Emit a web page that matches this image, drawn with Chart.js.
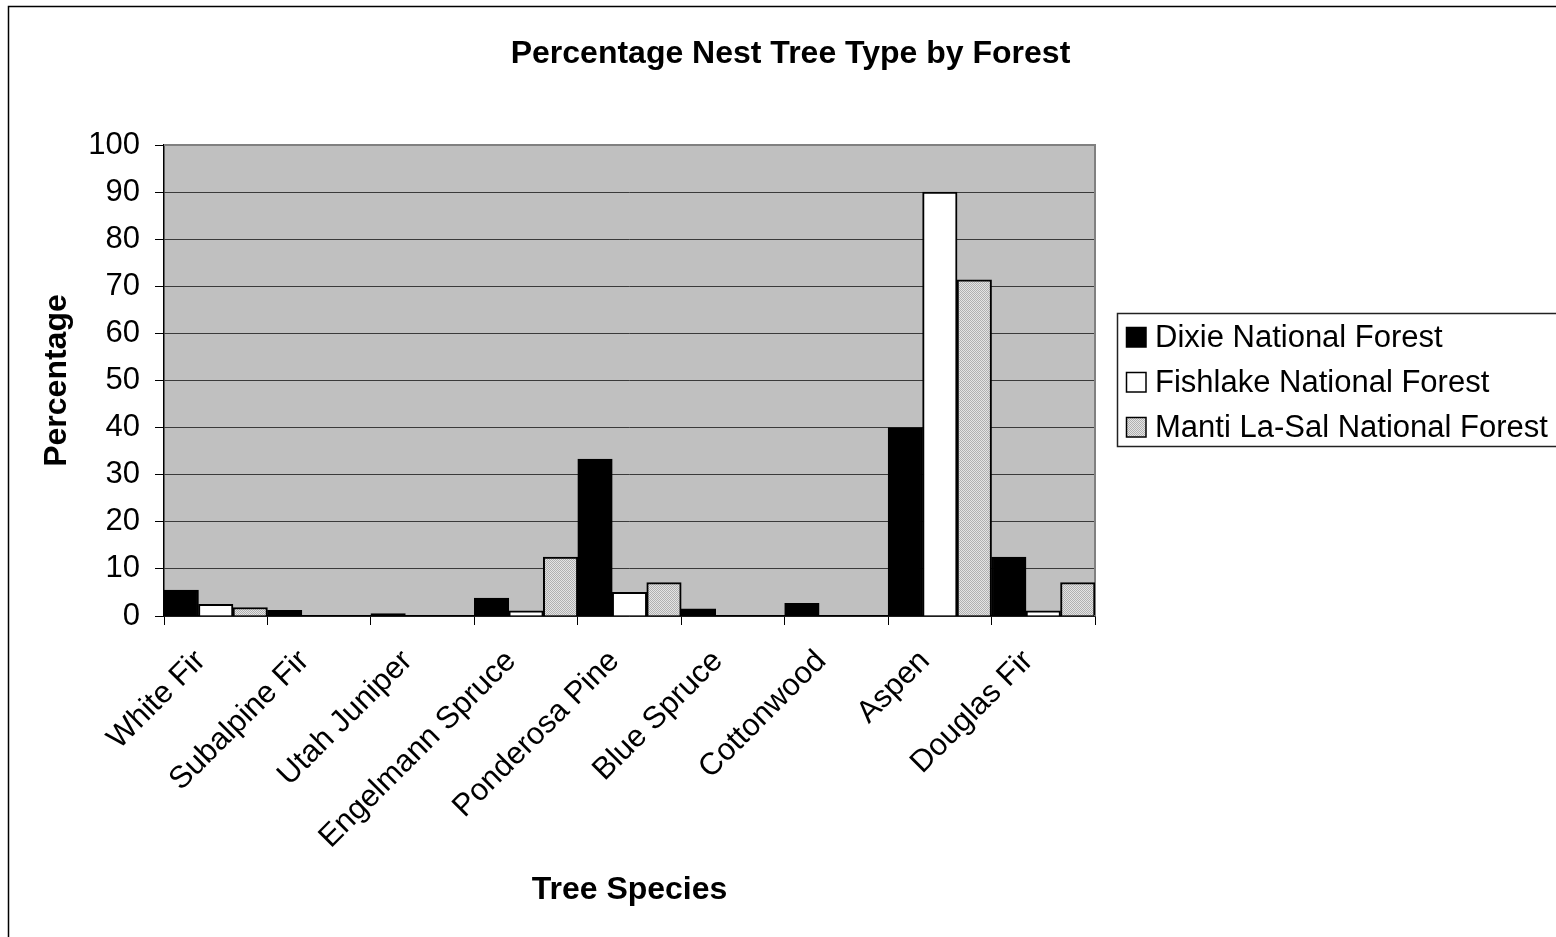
<!DOCTYPE html>
<html><head><meta charset="utf-8">
<script src="https://cdn.jsdelivr.net/npm/chart.js@4.4.1/dist/chart.umd.min.js"></script>
<style>html,body{margin:0;padding:0;background:#fff;overflow:hidden}#wrap{position:absolute;left:0;top:0;width:1556px;height:937px}</style>
</head><body><div id="wrap"><canvas id="c" width="1556" height="937"></canvas></div>
<script>
const categories = ['White Fir','Subalpine Fir','Utah Juniper','Engelmann Spruce','Ponderosa Pine','Blue Spruce','Cottonwood','Aspen','Douglas Fir'];
const dixie    = [5.5, 1.2, 0.5, 3.8, 33.3, 1.5, 2.7, 40.0, 12.5];
const fishlake = [2.5, 0,   0,   1.1, 5.0,  0,   0,   90.0, 1.1];
const manti    = [1.8, 0,   0,   12.5, 7.1, 0,   0,   71.4, 7.1];
const seriesNames = ['Dixie National Forest','Fishlake National Forest','Manti La-Sal National Forest'];
const yTickValues = [0,10,20,30,40,50,60,70,80,90,100];
const chartTitle = 'Percentage Nest Tree Type by Forest';
const xTitle = 'Tree Species';
const yTitle = 'Percentage';

const FONT = "'Liberation Sans', Arial, sans-serif";

function makePattern(){
  const p = document.createElement('canvas');
  p.width = 2; p.height = 2;
  const g = p.getContext('2d');
  g.fillStyle = '#e4e4e4'; g.fillRect(0,0,2,2);
  g.fillStyle = '#b0b0b0'; g.fillRect(0,0,1,1); g.fillRect(1,1,1,1);
  return document.getElementById('c').getContext('2d').createPattern(p,'repeat');
}
const mantiFill = makePattern();
const fills = ['#000000','#ffffff',mantiFill];

const decor = {
  id:'decor',
  beforeDraw(chart){
    const {ctx, chartArea:a} = chart;
    ctx.save();
    ctx.fillStyle = '#fff';
    ctx.fillRect(0,0,chart.width,chart.height);
    ctx.strokeStyle = '#000'; ctx.lineWidth = 1.5;
    ctx.strokeRect(8.5, 6.5, 3000, 3000);
    ctx.fillStyle = '#c0c0c0';
    ctx.fillRect(a.left, a.top, a.right-a.left, a.bottom-a.top);
    ctx.restore();
  },
  beforeDatasetsDraw(chart){
    const {ctx, chartArea:a} = chart;
    ctx.save();
    ctx.strokeStyle = '#808080'; ctx.lineWidth = 2;
    ctx.beginPath();
    ctx.moveTo(a.left, a.top); ctx.lineTo(a.right, a.top); ctx.lineTo(a.right, a.bottom);
    ctx.stroke();
    ctx.restore();
  },
  afterDraw(chart){
    const {ctx} = chart;
    ctx.save();
    ctx.fillStyle = '#000';
    ctx.font = 'bold 32px ' + FONT;
    ctx.textAlign = 'center'; ctx.textBaseline = 'middle';
    ctx.fillText(chartTitle, 790.5, 54);
    // legend
    ctx.strokeStyle = '#222'; ctx.lineWidth = 1.5;
    ctx.strokeRect(1117.5, 313.5, 600, 133);
    ctx.font = '31px ' + FONT;
    ctx.textAlign = 'left'; ctx.textBaseline = 'alphabetic';
    seriesNames.forEach((n,i)=>{
      const y = 327 + i*45;
      ctx.fillStyle = fills[i];
      ctx.fillRect(1126, y, 20, 20);
      ctx.strokeStyle = '#000'; ctx.lineWidth = 1.5;
      ctx.strokeRect(1126.5, y+0.5, 19.5, 19.5);
      ctx.fillStyle = '#000';
      ctx.fillText(n, 1155, y+20);
    });
    ctx.restore();
  }
};

new Chart(document.getElementById('c'), {
  type:'bar',
  data:{
    labels: categories,
    datasets: [dixie, fishlake, manti].map((d,i)=>({
      label: seriesNames[i], data: d,
      backgroundColor: fills[i], borderColor:'#000', borderWidth:2,
      categoryPercentage:1, barPercentage:1
    }))
  },
  options:{
    responsive:false, animation:false, devicePixelRatio:1,
    layout:{padding:{left:0, top:145, right:461, bottom:0}},
    plugins:{legend:{display:false}, title:{display:false}, tooltip:{enabled:false}},
    scales:{
      x:{
        grid:{display:true, drawOnChartArea:false, offset:true, tickLength:9, color:'#000', tickColor:'#000'},
        border:{color:'#000', width:1.5},
        ticks:{color:'#000', font:{family:FONT, size:31}, minRotation:45, maxRotation:45, autoSkip:false, padding:18, labelOffset:-15},
        title:{display:true, text:xTitle, color:'#000', font:{family:FONT, size:32, weight:'bold'}, padding:{top:0,bottom:27.8}},
        afterFit(s){ s.height = 321; }
      },
      y:{
        min:0, max:100,
        afterBuildTicks(s){ s.ticks = yTickValues.map(v=>({value:v})); },
        grid:{color:'#3a3a3a', lineWidth:1, tickLength:9, tickColor:'#000'},
        border:{color:'#000', width:1.5},
        ticks:{color:'#000', font:{family:FONT, size:31}, padding:15},
        title:{display:true, text:yTitle, color:'#000', font:{family:FONT, size:32, weight:'bold'}, padding:{top:37.8,bottom:0}},
        afterFit(s){ s.width = 164; }
      }
    }
  },
  plugins:[decor]
});
</script></body></html>
